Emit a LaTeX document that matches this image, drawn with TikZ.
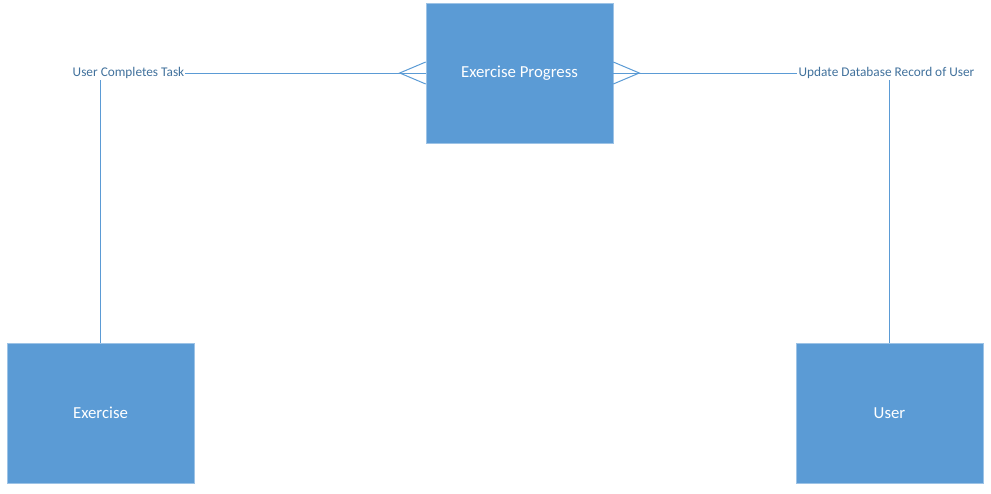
\documentclass[tikz,border=0pt]{standalone}
\usepackage{fontspec}
\setmainfont{Carlito}
\definecolor{boxfill}{HTML}{5B9BD5}
\definecolor{boxedge}{HTML}{9DC3E6}
\definecolor{linkcol}{HTML}{5B9BD5}
\definecolor{lblcol}{HTML}{41719C}
\begin{document}
\begin{tikzpicture}[x=1pt,y=-1pt,
  entity/.style={draw=boxedge,line width=0.6pt,fill=boxfill,minimum width=187pt,minimum height=140pt,inner sep=0pt,text=white,font=\fontsize{16.8}{19}\selectfont},
  rel/.style={text=lblcol,inner sep=1pt,font=\fontsize{13.3}{15}\selectfont},
  link/.style={draw=linkcol,line width=1pt}]
\useasboundingbox (0,0) rectangle (991,493);
\node[entity] (ep) at (519.5,73) {Exercise Progress};
\node[entity] (ex) at (100.5,413) {Exercise};
\node[entity] (us) at (889.5,413) {User};
\node[rel] (l1) at (128.5,73) {User Completes Task};
\node[rel] (l2) at (886.5,73) {Update Database Record of User};
% left crow's foot
\coordinate (f1) at ([xshift=-26pt]ep.west);
\coordinate (f1a) at ([yshift=-11pt]ep.west);
\coordinate (f1b) at ([yshift=11pt]ep.west);
\draw[link] (l1.east) -- (ep.west);
\draw[link] (f1a) -- (f1) -- (f1b);
% right crow's foot
\coordinate (f2) at ([xshift=26pt]ep.east);
\coordinate (f2a) at ([yshift=-11pt]ep.east);
\coordinate (f2b) at ([yshift=11pt]ep.east);
\draw[link] (ep.east) -- (l2.west);
\draw[link] (f2a) -- (f2) -- (f2b);
% vertical links
\draw[link] (ex.north) -- (ex.north |- l1.south);
\draw[link] (us.north) -- (us.north |- l2.south);
\end{tikzpicture}
\end{document}
